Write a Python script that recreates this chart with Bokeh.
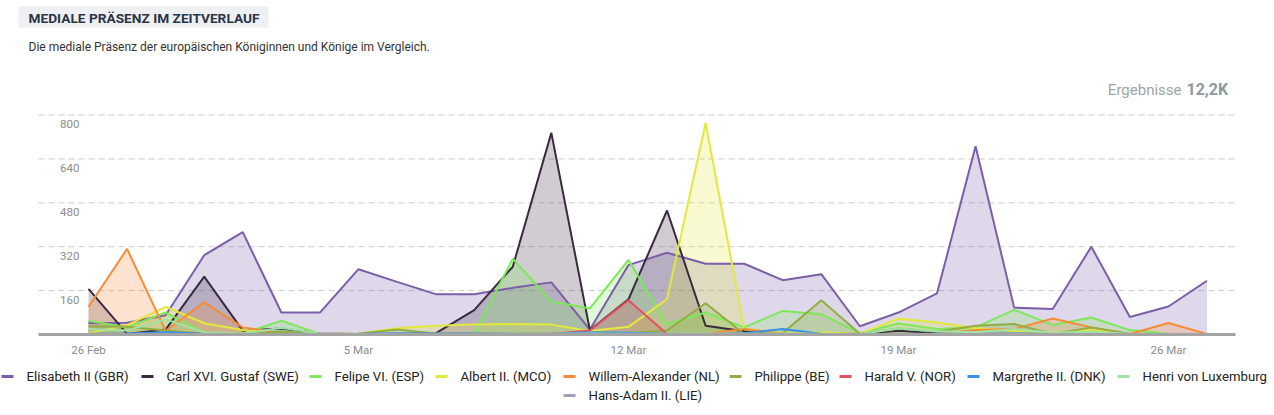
from bokeh.plotting import figure
from bokeh.models import Range1d, FixedTicker
from bokeh.layouts import column
from bokeh.core.properties import value
from bokeh.embed import file_html
from bokeh.resources import INLINE

# ---------------- data ----------------
dates = ["26 Feb", "27 Feb", "28 Feb"] + [f"{d} Mar" for d in range(1, 28)]
days = list(range(len(dates)))
tick_days = [0, 7, 14, 21, 28]
tick_labels = ["26 Feb", "5 Mar", "12 Mar", "19 Mar", "26 Mar"]
y_ticks = [160, 320, 480, 640, 800]

names = ["Elisabeth II (GBR)", "Carl XVI. Gustaf (SWE)", "Felipe VI. (ESP)", "Albert II. (MCO)",
         "Willem-Alexander (NL)", "Philippe (BE)", "Harald V. (NOR)", "Margrethe II. (DNK)",
         "Henri von Luxemburg", "Hans-Adam II. (LIE)"]
colors = ["#7b5ea7", "#3a2a3e", "#7ee85a", "#e3e83c", "#f78c38", "#93ad45", "#e2515f",
          "#3b8fea", "#9ee2a8", "#a09dc0"]

elisabeth = [42, 43, 70, 289, 373, 80, 80, 238, 192, 147, 147, 170, 190, 18, 253,
             298, 258, 258, 198, 220, 30, 80, 150, 686, 98, 93, 320, 64, 102, 196]
carl = [166, 2, 18, 211, 14, 22, 4, 2, 2, 4, 89, 247, 735, 16, 128,
        452, 32, 12, 3, 3, 3, 14, 5, 3, 2, 2, 2, 2, 2, 2]
felipe = [50, 26, 80, 6, 3, 50, 2, 1, 2, 3, 4, 276, 120, 95, 272,
          38, 80, 26, 86, 74, 5, 40, 20, 26, 90, 35, 62, 16, 3, 1]
albert = [5, 34, 101, 41, 16, 6, 2, 4, 23, 32, 36, 38, 36, 13, 28,
          129, 771, 20, 6, 7, 3, 58, 44, 23, 14, 6, 16, 3, 2, 1]
willem = [101, 312, 13, 117, 26, 5, 2, 1, 1, 1, 1, 2, 4, 5, 2,
          1, 3, 20, 4, 2, 1, 2, 2, 16, 20, 58, 26, 2, 42, 2]
philippe = [30, 28, 15, 3, 2, 10, 2, 3, 18, 4, 3, 3, 3, 3, 5,
            15, 114, 2, 5, 125, 3, 22, 10, 32, 38, 2, 26, 3, 2, 1]
harald = [1, 1, 1, 1, 1, 1, 1, 1, 1, 1, 1, 1, 2, 15, 125,
          2, 1, 1, 1, 1, 1, 1, 1, 1, 1, 1, 1, 1, 1, 1]
margrethe = [3, 4, 8, 3, 2, 2, 2, 3, 5, 4, 4, 3, 3, 8, 6,
             3, 2, 5, 20, 3, 2, 2, 3, 3, 4, 3, 4, 2, 2, 1]
henri = [20, 15, 55, 8, 3, 25, 3, 2, 2, 2, 2, 3, 3, 4, 3,
         3, 4, 3, 4, 3, 2, 22, 12, 8, 20, 6, 10, 3, 2, 1]
hans_adam = [2, 1, 2, 1, 1, 1, 1, 1, 2, 1, 1, 1, 1, 1, 1,
             1, 1, 1, 1, 1, 1, 1, 1, 1, 1, 1, 1, 1, 1, 1]
series = [elisabeth, carl, felipe, albert, willem, philippe, harald, margrethe, henri, hans_adam]

title = "MEDIALE PRÄSENZ IM ZEITVERLAUF"
subtitle = "Die mediale Präsenz der europäischen Königinnen und Könige im Vergleich."
result_label = "Ergebnisse"
result_value = "12,2K"

FONT = value("Roboto")
W = 1274


def blank(height, y0, y1):
    f = figure(width=W, height=height, x_range=Range1d(0, W), y_range=Range1d(y0, y1),
               output_backend="svg", toolbar_location=None,
               x_axis_location=None, y_axis_location=None,
               min_border_left=0, min_border_right=0, min_border_top=0, min_border_bottom=0)
    f.outline_line_color = None
    f.grid.visible = False
    return f


# ---------------- header (page pixel frame) ----------------
h = blank(100, 100, 0)
h.quad(left=[18], right=[268], top=[6], bottom=[27], fill_color="#eef0f3", line_color=None)
h.text(x=[28], y=[17], text=[title], text_font=FONT, text_font_style="bold",
       text_font_size="13.7px", text_color="#2b3548", text_baseline="middle")
h.text(x=[28], y=[46], text=[subtitle], text_font=FONT, text_font_size="12px",
       text_color="#333333", text_baseline="middle")
h.text(x=[1181], y=[89], text=[result_label], text_font=FONT, text_font_size="15px",
       text_color="#9aa6a9", text_baseline="middle", text_align="right")
h.text(x=[1186], y=[89], text=[result_value], text_font=FONT, text_font_style="bold",
       text_font_size="16px", text_color="#8d9b9e", text_baseline="middle", text_align="left")

# ---------------- main chart (full-width frame) ----------------
X0, X1 = -2.2816, 30.75          # frame edges in day units
G0, G1 = -1.296, 29.74           # extent of grid / baseline
p = figure(width=W, height=262, x_range=Range1d(X0, X1), y_range=Range1d(-7.3, 853),
           output_backend="svg", toolbar_location=None, y_axis_location=None,
           min_border_left=0, min_border_right=0, min_border_top=0, min_border_bottom=26)
p.outline_line_color = None
p.grid.visible = False

p.segment(x0=[G0] * len(y_ticks), x1=[G1] * len(y_ticks), y0=y_ticks, y1=y_ticks,
          line_color="#cccccc", line_dash="6 4", line_width=1)

p.text(x=[-0.233] * len(y_ticks), y=y_ticks, text=[str(t) for t in y_ticks],
       text_font=FONT, text_font_size="11.5px", text_color="#8c8c8c",
       text_align="right", text_baseline="middle", y_offset=9)

for vals, c in zip(series, colors):
    p.varea(x=days, y1=[0] * len(days), y2=vals, fill_color=c, fill_alpha=0.24)
for vals, c in zip(series, colors):
    p.line(x=days, y=vals, line_color=c, line_width=2)

p.segment(x0=[G0], x1=[G1], y0=[0], y1=[0], line_color="#a3a3a3", line_width=3)

ax = p.xaxis[0]
ax.ticker = FixedTicker(ticks=tick_days)
ax.major_label_overrides = {d: l for d, l in zip(tick_days, tick_labels)}
ax.axis_line_color = None
ax.major_tick_line_color = None
ax.minor_tick_line_color = None
ax.major_label_text_font = "Roboto"
ax.major_label_text_font_size = "11.5px"
ax.major_label_text_color = "#8c8c8c"
ax.major_label_standoff = 0

# ---------------- legend (page pixel frame) ----------------
leg = blank(53, 415, 362)
legend_x = [26, 166, 334, 460, 588, 754, 864, 992, 1142, 588]
legend_y = [376] * 9 + [395]
leg.segment(x0=[x - 25 for x in legend_x], x1=[x - 13 for x in legend_x],
            y0=legend_y, y1=legend_y, line_color=colors, line_width=3)
leg.text(x=legend_x, y=legend_y, text=names, text_font=FONT, text_font_size="13.2px",
         text_color="#222222", text_baseline="middle")

layout = column(h, p, leg, spacing=0)
open("out.html", "w").write(file_html(layout, INLINE))
